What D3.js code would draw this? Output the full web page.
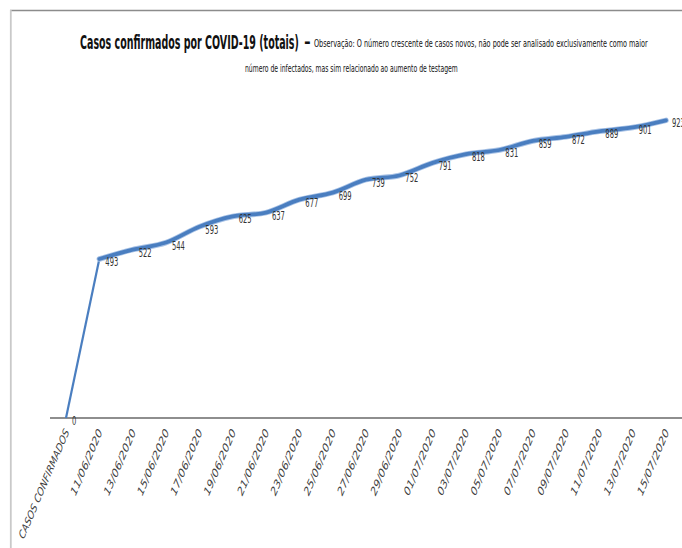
<!DOCTYPE html>
<html>
<head>
<meta charset="utf-8">
<script src="https://cdn.jsdelivr.net/npm/d3@7"></script>
<style>
  html, body { margin: 0; padding: 0; background: #fff; }
  svg { display: block; }
  text { font-family: "Liberation Sans Narrow", "DejaVu Sans Condensed", "Liberation Sans", sans-serif; }
</style>
</head>
<body>
<svg id="chart" width="682" height="548"></svg>
<script>
// Cumulative confirmed COVID-19 cases
const categories = [
  "CASOS CONFIRMADOS",
  "11/06/2020", "13/06/2020", "15/06/2020", "17/06/2020", "19/06/2020",
  "21/06/2020", "23/06/2020", "25/06/2020", "27/06/2020", "29/06/2020",
  "01/07/2020", "03/07/2020", "05/07/2020", "07/07/2020", "09/07/2020",
  "11/07/2020", "13/07/2020", "15/07/2020"
];
const cases = [0, 493, 522, 544, 593, 625, 637, 677, 699, 739, 752, 791, 818, 831, 859, 872, 889, 901, 923];
const yDomain = [0, 1000];

const titleMain = "Casos confirmados por COVID-19 (totais)";
const titleNote1 = "Observação: O número crescente de casos novos, não pode ser analisado  exclusivamente como maior";
const titleNote2 = "número de infectados, mas sim relacionado ao aumento de testagem";

const svg = d3.select("#chart");
const W = 682, H = 548;

// place a text squeezed horizontally to a given width
function narrowText(str, x0, y0, size, width, opts = {}) {
  const t = svg.append("text")
    .attr("font-size", size)
    .attr("font-weight", opts.weight || "normal")
    .attr("fill", opts.fill || "#111")
    .text(str);
  const natural = t.node().getComputedTextLength();
  t.attr("transform", `translate(${x0},${y0}) scale(${width / natural},1)`);
  return t;
}

// chart frame
svg.append("line").attr("x1", 10).attr("x2", W).attr("y1", 10.5).attr("y2", 10.5)
  .attr("stroke", "#8c8c8c").attr("stroke-width", 1.6);
svg.append("line").attr("x1", 10.8).attr("x2", 10.8).attr("y1", 10).attr("y2", H)
  .attr("stroke", "#c9c9c9").attr("stroke-width", 1.8);

// titles
narrowText(titleMain, 80, 49, 20, 219, { weight: "bold" });
svg.append("text").attr("x", 304).attr("y", 48)
  .attr("font-size", 18).attr("font-weight", "bold").attr("fill", "#111")
  .text("-");
narrowText(titleNote1, 314, 47, 10.5, 334);
narrowText(titleNote2, 245, 72, 10.5, 213);

// scales
const x = d3.scalePoint().domain(categories).range([66, 666]);
const y = d3.scaleLinear().domain(yDomain).range([418, 95.5]);

// horizontal category axis
const xAxis = d3.axisBottom(x).tickSize(0).tickPadding(0);
const gx = svg.append("g").attr("transform", `translate(0,${y(0)})`).call(xAxis);
gx.select(".domain").remove();
gx.selectAll("text")
  .attr("y", 0).attr("dy", 0)
  .attr("text-anchor", "end")
  .attr("font-size", 9.5)
  .attr("font-style", "italic")
  .attr("fill", "#404040")
  .attr("font-family", "'Liberation Sans', Arial, sans-serif")
  .attr("textLength", d => d.length > 12 ? 117 : 70)
  .attr("lengthAdjust", "spacingAndGlyphs")
  .attr("transform", "translate(3,14) rotate(-67) skewX(-14)");

svg.append("line")
  .attr("x1", 50).attr("x2", W).attr("y1", y(0)).attr("y2", y(0))
  .attr("stroke", "#8e8e8e").attr("stroke-width", 2);

// series line: first jump, then the smoothed run
const pts = categories.map((c, i) => [x(c), y(cases[i])]);
const straight = d3.line();
const smooth = d3.line().curve(d3.curveCatmullRom.alpha(0.5));

svg.append("path").attr("d", straight(pts.slice(0, 2)))
  .attr("fill", "none").attr("stroke", "#4a7ec0").attr("stroke-width", 2.2);
svg.append("path").attr("d", smooth(pts.slice(1)))
  .attr("fill", "none").attr("stroke", "#a9c3e6").attr("stroke-width", 5.5)
  .attr("stroke-linecap", "round").attr("stroke-linejoin", "round");
svg.append("path").attr("d", smooth(pts.slice(1)))
  .attr("fill", "none").attr("stroke", "#4a7ec0").attr("stroke-width", 3.8)
  .attr("stroke-linecap", "round").attr("stroke-linejoin", "round");

// value labels
svg.append("g").selectAll("text").data(cases).join("text")
  .attr("x", (d, i) => x(categories[i]) + 6)
  .attr("y", (d, i) => y(d) + 7)
  .attr("font-size", 12)
  .attr("fill", "#333")
  .attr("textLength", d => String(d).length * 4.3)
  .attr("lengthAdjust", "spacingAndGlyphs")
  .text(d => d);
</script>
</body>
</html>
